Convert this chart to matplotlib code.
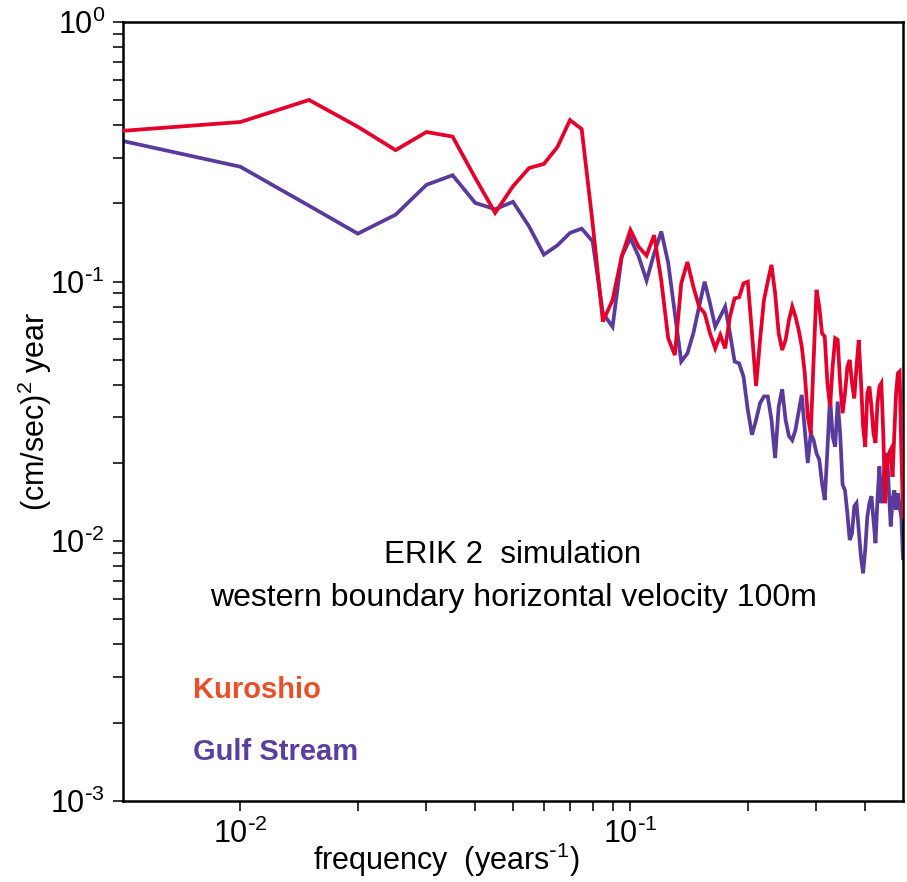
import numpy as np
import matplotlib
matplotlib.use("Agg")
import matplotlib.pyplot as plt
from matplotlib.ticker import FixedLocator, NullFormatter, FixedFormatter

plt.rcParams['font.family'] = ['Liberation Sans', 'DejaVu Sans']
plt.rcParams['mathtext.default'] = 'regular'

# frequency grid (1/200 yr spacing)
freq = np.arange(1, 101) * 0.005

kuroshio = [
    0.381, 0.412, 0.501, 0.395, 0.321, 0.377, 0.362, 0.251, 0.184, 0.233,
    0.274, 0.284, 0.330, 0.419, 0.387, 0.168, 0.0701, 0.0849, 0.125, 0.158,
    0.136, 0.126, 0.151, 0.101, 0.0605, 0.0521, 0.0984, 0.119, 0.0956, 0.0801,
    0.0755, 0.0632, 0.0553, 0.0623, 0.0553, 0.0733, 0.0862, 0.0870, 0.0984, 0.0999,
    0.0632, 0.0396, 0.0596, 0.0849, 0.0999, 0.116, 0.0901, 0.0632, 0.0545, 0.0596,
    0.0711, 0.0801, 0.0733, 0.0652, 0.0562, 0.0443, 0.0302, 0.0260, 0.0499, 0.0929,
    0.0801, 0.0632, 0.0614, 0.0406, 0.0330, 0.0470, 0.0605, 0.0596, 0.0406, 0.0311,
    0.0371, 0.0470, 0.0499, 0.0406, 0.0355, 0.0470, 0.0596, 0.0417, 0.0276, 0.0231,
    0.0371, 0.0394, 0.0330, 0.0260, 0.0239, 0.0340, 0.0394, 0.0406, 0.0260, 0.0140,
    0.0194, 0.0218, 0.0225, 0.0177, 0.0260, 0.0371, 0.0443, 0.0450, 0.0225, 0.0124,
]

gulf_stream = [
    0.348, 0.277, 0.196, 0.153, 0.181, 0.236, 0.257, 0.201, 0.190, 0.203,
    0.163, 0.127, 0.138, 0.154, 0.160, 0.143, 0.0755, 0.0670, 0.125, 0.147,
    0.125, 0.101, 0.128, 0.156, 0.118, 0.0755, 0.0492, 0.0529, 0.0632, 0.0801,
    0.0999, 0.0825, 0.0670, 0.0733, 0.0801, 0.0632, 0.0492, 0.0484, 0.0430, 0.0320,
    0.0257, 0.0293, 0.0340, 0.0361, 0.0361, 0.0293, 0.0209, 0.0330, 0.0385, 0.0293,
    0.0254, 0.0245, 0.0268, 0.0315, 0.0366, 0.0268, 0.0200, 0.0260, 0.0245, 0.0218,
    0.0206, 0.0167, 0.0144, 0.0225, 0.0361, 0.0253, 0.0231, 0.0345, 0.0260, 0.0165,
    0.0157, 0.0128, 0.0101, 0.0107, 0.0136, 0.0140, 0.0110, 0.00872, 0.00752, 0.00925,
    0.0124, 0.0140, 0.0149, 0.0121, 0.00982, 0.0144, 0.0194, 0.0140, 0.0167, 0.0206,
    0.0218, 0.0157, 0.0114, 0.0144, 0.0157, 0.0132, 0.0153, 0.0136, 0.0124, 0.00859,
]

x_ticks = [0.01, 0.1]
x_tick_labels = [r'$10^{\text{-}2}$', r'$10^{\text{-}1}$']
x_minor = [0.02, 0.03, 0.04, 0.05, 0.06, 0.07, 0.08, 0.09, 0.2, 0.3, 0.4]
y_ticks = [1e-3, 1e-2, 1e-1, 1e0]
y_tick_labels = [r'$10^{\text{-}3}$', r'$10^{\text{-}2}$', r'$10^{\text{-}1}$', r'$10^{0}$']
y_minor = [m * d for d in (1e-3, 1e-2, 1e-1) for m in range(2, 10)]

red = '#e4002b'
purple = '#5a3b9c'

fig = plt.figure(figsize=(9.07, 8.82), dpi=100)
ax = fig.add_axes([0.1356, 0.0922, 0.86, 0.8828])

ax.plot(freq, kuroshio, color=red, lw=2.7, solid_joinstyle='miter', zorder=3)
ax.plot(freq, gulf_stream, color=purple, lw=2.7, solid_joinstyle='miter', zorder=2)

ax.set_xscale('log')
ax.set_yscale('log')
ax.set_xlim(0.005, 0.5)
ax.set_ylim(1e-3, 1)

ax.xaxis.set_major_locator(FixedLocator(x_ticks))
ax.xaxis.set_major_formatter(FixedFormatter(x_tick_labels))
ax.yaxis.set_major_locator(FixedLocator(y_ticks))
ax.yaxis.set_major_formatter(FixedFormatter(y_tick_labels))
ax.xaxis.set_minor_locator(FixedLocator(x_minor))
ax.yaxis.set_minor_locator(FixedLocator(y_minor))
ax.xaxis.set_minor_formatter(NullFormatter())
ax.yaxis.set_minor_formatter(NullFormatter())

ax.tick_params(which='both', direction='out', length=7, width=1.3, color='#222222',
               top=False, right=False)
ax.tick_params(which='major', labelsize=22, pad=6)
for s in ax.spines.values():
    s.set_linewidth(1.8)

ax.set_ylabel('(cm/sec)$^{2}$ year', fontsize=22)
ax.yaxis.set_label_coords(-0.088, 0.5)
ax.set_xlabel(r'frequency  (years$^{\text{-}1}$)', fontsize=22)
ax.xaxis.set_label_coords(0.414, -0.052)

ax.text(0.5, 0.3155, 'ERIK 2  simulation', transform=ax.transAxes,
        ha='center', va='center', fontsize=22.5)
ax.text(0.5, 0.260, 'western boundary horizontal velocity 100m', transform=ax.transAxes,
        ha='center', va='center', fontsize=23)

ax.text(0.0897, 0.142, 'Kuroshio', transform=ax.transAxes, ha='left', va='center',
        fontsize=21, fontweight='bold', color='#e8502a')
ax.text(0.0897, 0.0625, 'Gulf Stream', transform=ax.transAxes, ha='left', va='center',
        fontsize=21, fontweight='bold', color='#5a3ea0')

fig.savefig('out.png', dpi=100)
